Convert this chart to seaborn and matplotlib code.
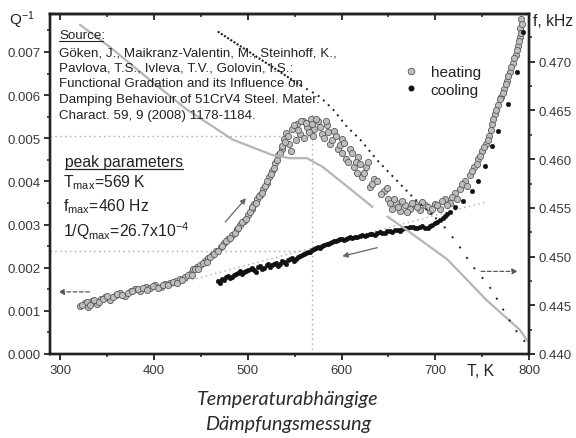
import numpy as np
import pandas as pd
import matplotlib
matplotlib.use("Agg")
import matplotlib.pyplot as plt
from matplotlib.ticker import MultipleLocator, FormatStrFormatter
from matplotlib.lines import Line2D
import seaborn as sns

# ---------------- data ----------------
# internal friction Q^-1, heating run (first pass along the band)
heat_T = [321, 326, 330, 334, 339, 343, 348, 353, 359, 364, 369, 375, 380, 385, 391, 396, 401, 407,
          412, 417, 423, 428, 433, 439, 442, 446, 449, 454, 458, 462, 466, 471, 475, 479, 483, 488,
          492, 496, 500, 504, 507, 510, 513, 516, 520, 523, 526, 529, 532, 536, 539, 541, 544, 547,
          552, 556, 559, 563, 567, 571, 575, 579, 584, 588, 592, 596, 601, 605, 609, 613, 618, 622,
          626, 630, 635, 645, 650, 654, 658, 662, 668, 673, 678, 684, 689, 694, 700, 705, 710, 716,
          721, 726, 732, 737, 741, 746, 750, 754, 757, 760, 764, 767, 770, 773, 777, 780, 783, 786,
          788, 790, 790, 791]
heat_Q = [0.00111, 0.00118, 0.00109, 0.00123, 0.00116, 0.00127, 0.00132, 0.00125, 0.00137, 0.00141,
          0.00134, 0.00146, 0.00151, 0.00146, 0.00155, 0.00153, 0.00160, 0.00155, 0.00162, 0.00165,
          0.00169, 0.00174, 0.00178, 0.00188, 0.00197, 0.00202, 0.00206, 0.00216, 0.00223, 0.00229,
          0.00239, 0.00248, 0.00257, 0.00267, 0.00276, 0.00290, 0.00299, 0.00308, 0.00322, 0.00336,
          0.00348, 0.00359, 0.00369, 0.00382, 0.00396, 0.00410, 0.00424, 0.00443, 0.00461, 0.00475,
          0.00498, 0.00512, 0.00487, 0.00522, 0.00533, 0.00510, 0.00540, 0.00526, 0.00545, 0.00522,
          0.00540, 0.00510, 0.00531, 0.00487, 0.00517, 0.00475, 0.00498, 0.00452, 0.00475, 0.00433,
          0.00457, 0.00410, 0.00433, 0.00387, 0.00406, 0.00378, 0.00359, 0.00336, 0.00350, 0.00331,
          0.00345, 0.00336, 0.00348, 0.00334, 0.00345, 0.00331, 0.00348, 0.00336, 0.00359, 0.00350,
          0.00373, 0.00382, 0.00401, 0.00415, 0.00433, 0.00452, 0.00471, 0.00487, 0.00505, 0.00533,
          0.00556, 0.00577, 0.00596, 0.00614, 0.00633, 0.00654, 0.00675, 0.00693, 0.00714, 0.00735,
          0.00756, 0.00777]
# heating run, second pass (other edge of the band)
heat2_T = [323, 328, 332, 336, 341, 346, 350, 356, 361, 366, 372, 377, 383, 388, 393, 399, 404, 410,
           415, 420, 425, 430, 436, 440, 444, 447, 452, 456, 460, 464, 468, 473, 477, 481, 486, 490,
           494, 498, 502, 505, 509, 512, 515, 518, 521, 525, 528, 531, 534, 537, 540, 543, 546, 549,
           551, 554, 557, 560, 562, 565, 568, 570, 573, 577, 581, 583, 586, 590, 594, 598, 600, 603,
           607, 611, 615, 617, 620, 624, 628, 632, 638, 642, 648, 652, 656, 660, 664, 670, 675, 681,
           686, 692, 697, 702, 707, 712, 718, 723, 728, 734, 739, 744, 748, 752, 756, 759, 762, 765,
           769, 772, 775, 778, 781, 784, 787, 789, 791, 792]
heat2_Q = [0.00114, 0.00121, 0.00113, 0.00126, 0.00121, 0.00128, 0.00135, 0.00131, 0.00140, 0.00136,
           0.00142, 0.00145, 0.00150, 0.00152, 0.00149, 0.00157, 0.00154, 0.00161, 0.00159, 0.00167,
           0.00164, 0.00171, 0.00183, 0.00184, 0.00196, 0.00196, 0.00210, 0.00214, 0.00224, 0.00232,
           0.00239, 0.00250, 0.00263, 0.00269, 0.00281, 0.00292, 0.00306, 0.00312, 0.00329, 0.00340,
           0.00350, 0.00366, 0.00374, 0.00390, 0.00401, 0.00417, 0.00432, 0.00450, 0.00466, 0.00482,
           0.00492, 0.00505, 0.00470, 0.00530, 0.00495, 0.00520, 0.00541, 0.00500, 0.00535, 0.00515,
           0.00532, 0.00505, 0.00545, 0.00525, 0.00500, 0.00540, 0.00515, 0.00495, 0.00505, 0.00485,
           0.00465, 0.00490, 0.00445, 0.00465, 0.00445, 0.00420, 0.00440, 0.00420, 0.00445, 0.00395,
           0.00400, 0.00370, 0.00385, 0.00350, 0.00360, 0.00340, 0.00355, 0.00330, 0.00350, 0.00340,
           0.00352, 0.00340, 0.00336, 0.00345, 0.00355, 0.00345, 0.00365, 0.00360, 0.00395, 0.00390,
           0.00425, 0.00440, 0.00460, 0.00480, 0.00495, 0.00520, 0.00545, 0.00565, 0.00590, 0.00605,
           0.00625, 0.00645, 0.00665, 0.00685, 0.00705, 0.00725, 0.00745, 0.00765]

# internal friction Q^-1, cooling run
cool_T = [468, 473, 477, 481, 485, 490, 494, 498, 503, 507, 511, 515, 520, 524, 528, 532, 537, 541,
          545, 549, 554, 558, 562, 566, 571, 575, 579, 584, 588, 592, 596, 601, 605, 609, 614, 620,
          625, 630, 636, 641, 646, 652, 657, 662, 668, 673, 678, 684, 689, 694, 700, 705, 710, 716,
          721, 730, 739, 746, 753, 761, 767, 778, 787, 794,
          470, 475, 479, 483, 487, 492, 496, 500, 505, 509, 513, 517, 522, 526, 530, 534, 539, 543,
          547, 551, 556, 560, 564, 568, 573, 577, 581, 586, 590, 594, 598, 603, 607, 611, 617, 622,
          627, 633, 638, 643, 649, 654, 660, 665, 670, 676, 681, 686, 692, 697, 702, 708, 713]
cool_Q = [0.00169, 0.00174, 0.00178, 0.00176, 0.00183, 0.00188, 0.00185, 0.00192, 0.00197, 0.00195,
          0.00202, 0.00197, 0.00206, 0.00202, 0.00209, 0.00204, 0.00216, 0.00209, 0.00220, 0.00216,
          0.00225, 0.00229, 0.00234, 0.00236, 0.00243, 0.00248, 0.00250, 0.00255, 0.00257, 0.00262,
          0.00264, 0.00267, 0.00267, 0.00271, 0.00271, 0.00274, 0.00274, 0.00278, 0.00276, 0.00283,
          0.00280, 0.00285, 0.00287, 0.00285, 0.00292, 0.00294, 0.00292, 0.00294, 0.00292, 0.00297,
          0.00304, 0.00311, 0.00320, 0.00329, 0.00341, 0.00355, 0.00378, 0.00401, 0.00436, 0.00482,
          0.00517, 0.00580, 0.00654, 0.00746,
          0.00165, 0.00172, 0.00181, 0.00179, 0.00186, 0.00192, 0.00189, 0.00195, 0.00200, 0.00190,
          0.00204, 0.00200, 0.00209, 0.00206, 0.00211, 0.00209, 0.00213, 0.00218, 0.00222, 0.00220,
          0.00228, 0.00232, 0.00236, 0.00240, 0.00245, 0.00246, 0.00253, 0.00255, 0.00260, 0.00262,
          0.00266, 0.00264, 0.00270, 0.00268, 0.00272, 0.00276, 0.00275, 0.00278, 0.00281, 0.00280,
          0.00284, 0.00283, 0.00288, 0.00290, 0.00291, 0.00295, 0.00293, 0.00296, 0.00293, 0.00300,
          0.00307, 0.00315, 0.00325]

# resonance frequency (kHz), heating run (grey line) – two segments
fheat_T = [321, 353, 396, 435, 484, 527, 545, 563, 580, 606, 633, 649, 670, 713, 755, 790, 798]
fheat_f = [0.4738, 0.4715, 0.4681, 0.4651, 0.4620, 0.4604, 0.4601, 0.4601, 0.4592, 0.4572, 0.4551,
           0.4541, 0.4527, 0.4497, 0.4455, 0.4425, 0.4414]
fheat_seg = [0] * 11 + [1] * 6

# resonance frequency (kHz), cooling run (black dots, sparser at high T)
fcool_T = [468, 548, 556, 577, 591, 606, 620, 638, 655, 676, 700, 713, 726, 739, 755, 762, 777, 787, 796]
fcool_f = [0.4731, 0.4681, 0.4676, 0.4664, 0.4651, 0.4633, 0.4620, 0.4599, 0.4582, 0.4561, 0.4540,
           0.4527, 0.4510, 0.4491, 0.4473, 0.4463, 0.4438, 0.4423, 0.4412]

# peak evaluation helpers
T_max = 569
Q_peak_level = 0.00505
Q_half_level = 0.00239
baseline_T = [435, 755]
baseline_Q = [0.00169, 0.00353]

x_ticks = [300, 400, 500, 600, 700, 800]
yq_ticks = [0.000, 0.001, 0.002, 0.003, 0.004, 0.005, 0.006, 0.007]
yf_ticks = [0.440, 0.445, 0.450, 0.455, 0.460, 0.465, 0.470]

source_lines = ["Göken, J., Maikranz-Valentin, M., Steinhoff, K.,",
                "Pavlova, T.S., Ivleva, T.V., Golovin, I.S.:",
                "Functional Gradation and its Influence on",
                "Damping Behaviour of 51CrV4 Steel. Mater.",
                "Charact. 59, 9 (2008) 1178-1184."]

# ---------------- styling ----------------
sns.set_theme(style="ticks", rc={
    "axes.edgecolor": "#222222", "axes.linewidth": 1.7,
    "xtick.color": "#222222", "ytick.color": "#222222",
    "xtick.labelcolor": "#3a3a3a", "ytick.labelcolor": "#3a3a3a",
    "xtick.major.size": 4, "ytick.major.size": 4,
    "xtick.minor.size": 2.5, "ytick.minor.size": 2.5,
    "xtick.major.width": 1.3, "ytick.major.width": 1.3,
    "xtick.minor.width": 1.1, "ytick.minor.width": 1.1,
    "xtick.labelsize": 9.5, "ytick.labelsize": 9.5,
})
plt.rcParams["font.family"] = ["Liberation Sans", "DejaVu Sans"]
plt.rcParams["mathtext.default"] = "regular"

fig = plt.figure(figsize=(5.76, 4.39), dpi=100)
ax = fig.add_axes([50 / 576, 1 - 355 / 439, 479 / 576, 340 / 439])
ax2 = ax.twinx()

heat_df = pd.DataFrame({"T": heat_T + heat2_T, "Q": heat_Q + heat2_Q})
cool_df = pd.DataFrame({"T": cool_T, "Q": cool_Q})
fh_df = pd.DataFrame({"T": fheat_T, "f": fheat_f, "seg": fheat_seg})
fc_df = pd.DataFrame({"T": fcool_T, "f": fcool_f})

# helper dotted lines
ref_kw = dict(color="#a8a8a8", lw=1.0, ls=(0, (1, 2.5)), zorder=1)
ax.plot([289, T_max], [Q_peak_level, Q_peak_level], **ref_kw)
ax.plot([289, T_max], [Q_half_level, Q_half_level], **ref_kw)
ax.plot([T_max, T_max], [0, 0.0056], **ref_kw)
ax.plot(baseline_T, baseline_Q, **ref_kw)

sns.scatterplot(data=heat_df, x="T", y="Q", ax=ax, s=20, color="#bdbdbd",
                edgecolor="#5a5a5a", linewidth=0.6, zorder=3, legend=False)
sns.scatterplot(data=cool_df, x="T", y="Q", ax=ax, s=11, color="#111111",
                edgecolor="#111111", linewidth=0.3, zorder=4, legend=False)

sns.lineplot(data=fh_df, x="T", y="f", units="seg", estimator=None, sort=False,
             ax=ax2, color="#b5b5b5", lw=1.6, legend=False)
# cooling frequency: dense dots at low T, sparser towards high T
fc_a = fc_df[fc_df["T"] <= 556]
fc_b = fc_df[(fc_df["T"] >= 556) & (fc_df["T"] <= 700)]
fc_c = fc_df[fc_df["T"] >= 700]
sns.lineplot(data=fc_a, x="T", y="f", estimator=None, sort=False, ax=ax2,
             color="#222222", lw=1.5, ls=(0, (1, 0.8)), legend=False)
sns.lineplot(data=fc_b, x="T", y="f", estimator=None, sort=False, ax=ax2,
             color="#222222", lw=1.4, ls=(0, (1, 2.5)), legend=False)
sns.lineplot(data=fc_c, x="T", y="f", estimator=None, sort=False, ax=ax2,
             color="#222222", lw=1.4, ls=(0, (1, 5.5)), legend=False)

# arrows
ax.annotate("", xy=(295, 0.00144), xytext=(334, 0.00144),
            arrowprops=dict(arrowstyle="-|>", ls=(0, (3, 2)), color="#555555", lw=0.9,
                            mutation_scale=8))
ax2.annotate("", xy=(791, 0.44848), xytext=(746, 0.44848),
             arrowprops=dict(arrowstyle="-|>", ls=(0, (3, 2)), color="#555555", lw=0.9,
                             mutation_scale=8))
ax.annotate("", xy=(500, 0.00366), xytext=(474, 0.00301),
            arrowprops=dict(arrowstyle="-|>", color="#666666", lw=0.9, mutation_scale=8))
ax.annotate("", xy=(598, 0.00225), xytext=(641, 0.00248),
            arrowprops=dict(arrowstyle="-|>", color="#666666", lw=0.9, mutation_scale=8))

# axes limits & ticks
ax.set_xlim(289, 800)
ax.set_ylim(0, 0.00788)
ax2.set_ylim(0.440, 0.4749)
ax.set_xticks(x_ticks)
ax.xaxis.set_minor_locator(MultipleLocator(50))
ax.set_yticks(yq_ticks)
ax.yaxis.set_minor_locator(MultipleLocator(0.0005))
ax.yaxis.set_major_formatter(FormatStrFormatter("%.3f"))
ax2.set_yticks(yf_ticks)
ax2.yaxis.set_minor_locator(MultipleLocator(0.0025))
ax2.yaxis.set_major_formatter(FormatStrFormatter("%.3f"))
ax.tick_params(which="both", direction="out", pad=3)
ax2.tick_params(which="both", direction="out", pad=3)
sec = ax.secondary_xaxis("top")
sec.set_xticks(x_ticks)
sec.xaxis.set_minor_locator(MultipleLocator(50))
sec.tick_params(which="both", direction="in", labeltop=False)
ax.set_xlabel("")
ax.set_ylabel("")
ax2.set_ylabel("")
for a in (ax, ax2):
    for s in a.spines.values():
        s.set_visible(True)

# legend
handles = [Line2D([], [], ls="none", marker="o", ms=4.8, mfc="#bdbdbd", mec="#5a5a5a", mew=0.6),
           Line2D([], [], ls="none", marker="o", ms=3.3, mfc="#111111", mec="#111111")]
ax2.legend(handles, ["heating", "cooling"], loc="upper left", bbox_to_anchor=(0.737, 0.85),
           frameon=False, fontsize=11, handlelength=1.0, handletextpad=0.8,
           borderpad=0, borderaxespad=0, labelspacing=0.25, labelcolor="#222222")

# texts
W, H = 576, 439
def ftext(x, y, s, **kw):
    fig.text(x / W, 1 - y / H, s, **kw)

ftext(59, 36, "Source:", fontsize=9.6, va="center", color="#222222")
fig.add_artist(Line2D([59 / W, 103 / W], [1 - 42 / H, 1 - 42 / H], color="#222222", lw=0.8))
for i, line in enumerate(source_lines):
    ftext(59, 53 + i * 15.7, line, fontsize=9.6, va="center", color="#222222")

ftext(65, 162, "peak parameters", fontsize=11.3, va="center", color="#222222")
fig.add_artist(Line2D([65 / W, 183 / W], [1 - 170 / H, 1 - 170 / H], color="#222222", lw=0.9))
ftext(63, 183, r"T$_{max}$=569 K", fontsize=11.3, va="center", color="#222222")
ftext(63, 207, r"f$_{max}$=460 Hz", fontsize=11.3, va="center", color="#222222")
ftext(63, 231, r"1/Q$_{max}$=26.7x10$^{-4}$", fontsize=11.3, va="center", color="#222222")

ftext(22, 20, r"Q$^{-1}$", fontsize=11, ha="center", va="center", color="#222222")
ftext(533, 22, "f, kHz", fontsize=11.3, ha="left", va="center", color="#222222")
ftext(481, 372, "T, K", fontsize=11.3, ha="center", va="center", color="#222222")

ftext(288, 400, "Temperaturabhängige", fontsize=14.2, ha="center", va="center",
      style="italic", family=["Lato", "DejaVu Sans"], color="#2a2a2a")
ftext(288, 425, "Dämpfungsmessung", fontsize=14.2, ha="center", va="center",
      style="italic", family=["Lato", "DejaVu Sans"], color="#2a2a2a")

fig.savefig("out.png", dpi=100)
